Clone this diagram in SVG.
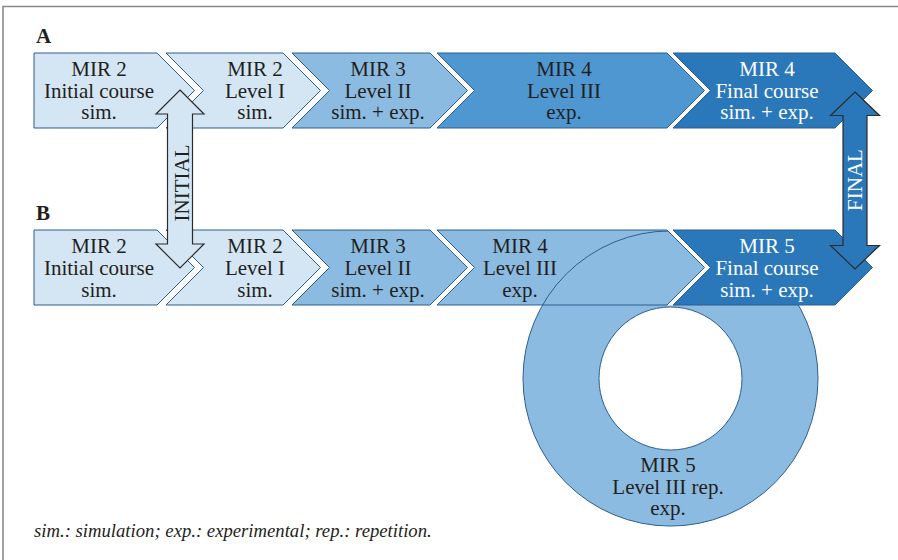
<svg xmlns="http://www.w3.org/2000/svg" width="898" height="560" viewBox="0 0 898 560">
<defs>
<style>
.t{font-family:"Liberation Serif","Times New Roman",serif;font-size:21px;fill:#231f20;text-anchor:middle}
.w{fill:#ffffff}
.lbl{font-family:"Liberation Serif","Times New Roman",serif;font-size:21px;font-weight:bold;fill:#231f20}
.c{stroke:#2a5f8f;stroke-width:1}
.l1{fill:#d4e6f4}
.l2{fill:#8cbbe1}
.l3{fill:#4f97d1}
.l4{fill:#2a78ba}
.arr{stroke:#2b2b2b;stroke-width:1.2}
.note{font-family:"Liberation Serif","Times New Roman",serif;font-size:18.7px;font-style:italic;fill:#231f20}
</style>
</defs>
<rect width="898" height="560" fill="#ffffff"/>
<path d="M3,560 V6.5 H898" fill="none" stroke="#8a8a8a" stroke-width="1.6"/>
<text class="lbl" x="36" y="43">A</text>
<text class="lbl" x="36" y="220">B</text>

<g id="a1">
<path class="c l1" d="M34,53 H157 L194.5,90.5 L157,128 H34 Z"/>
<text class="t"><tspan x="99" y="76">MIR 2</tspan><tspan x="99" y="97.5">Initial course</tspan><tspan x="99" y="119">sim.</tspan></text>
</g>
<g id="a2">
<path class="c l1" d="M166,53 H283 L320.5,90.5 L283,128 H166 L203.5,90.5 Z"/>
<text class="t"><tspan x="255" y="76">MIR 2</tspan><tspan x="255" y="97.5">Level I</tspan><tspan x="255" y="119">sim.</tspan></text>
</g>
<g id="a3">
<path class="c l2" d="M292,53 H430 L467.5,90.5 L430,128 H292 L329.5,90.5 Z"/>
<text class="t"><tspan x="378" y="76">MIR 3</tspan><tspan x="378" y="97.5">Level II</tspan><tspan x="378" y="119">sim. + exp.</tspan></text>
</g>
<g id="a4">
<path class="c l3" d="M437,53 H667 L704.5,90.5 L667,128 H437 L474.5,90.5 Z"/>
<text class="t"><tspan x="564" y="76">MIR 4</tspan><tspan x="564" y="97.5">Level III</tspan><tspan x="564" y="119">exp.</tspan></text>
</g>
<g id="a5">
<path class="c l4" d="M673,53 H835 L872.5,90.5 L835,128 H673 L710.5,90.5 Z"/>
<text class="t w"><tspan x="767" y="76">MIR 4</tspan><tspan x="767" y="97.5">Final course</tspan><tspan x="767" y="119">sim. + exp.</tspan></text>
</g>

<g id="b1">
<path class="c l1" d="M34,230 H157 L194.5,267.5 L157,305 H34 Z"/>
<text class="t"><tspan x="99" y="253">MIR 2</tspan><tspan x="99" y="275">Initial course</tspan><tspan x="99" y="297">sim.</tspan></text>
</g>
<g id="b2">
<path class="c l1" d="M166,230 H283 L320.5,267.5 L283,305 H166 L203.5,267.5 Z"/>
<text class="t"><tspan x="255" y="253">MIR 2</tspan><tspan x="255" y="275">Level I</tspan><tspan x="255" y="297">sim.</tspan></text>
</g>
<g id="b3">
<path class="c l2" d="M292,230 H430 L467.5,267.5 L430,305 H292 L329.5,267.5 Z"/>
<text class="t"><tspan x="378" y="253">MIR 3</tspan><tspan x="378" y="275">Level II</tspan><tspan x="378" y="297">sim. + exp.</tspan></text>
</g>
<g id="b4">
<path class="l2" d="M437,230 H667 L704.5,267.5 L667,305 H437 L474.5,267.5 Z"/>
<text class="t"><tspan x="520" y="253">MIR 4</tspan><tspan x="520" y="275">Level III</tspan><tspan x="520" y="297">exp.</tspan></text>
</g>
<g id="ring">
<path class="c l2" fill-rule="evenodd" d="M523,378.5 a147.5,147.5 0 1,0 295,0 a147.5,147.5 0 1,0 -295,0 Z M599,378.5 a71.5,71.5 0 1,0 143,0 a71.5,71.5 0 1,0 -143,0 Z"/>
<text class="t"><tspan x="668" y="472">MIR 5</tspan><tspan x="668" y="494">Level III rep.</tspan><tspan x="668" y="515">exp.</tspan></text>
</g>
<polygon points="667,229.5 673,229.5 710.5,267.5 673,305.5 667,305.5 704.5,267.5" fill="#ffffff"/>
<path class="c" fill="none" d="M437,230 H667 L704.5,267.5 L667,305 H437 L474.5,267.5 Z"/>
<g id="b5">
<path class="c l4" d="M673,230 H835 L872.5,267.5 L835,305 H673 L710.5,267.5 Z"/>
<text class="t w"><tspan x="767" y="253">MIR 5</tspan><tspan x="767" y="275">Final course</tspan><tspan x="767" y="297">sim. + exp.</tspan></text>
</g>

<g id="connectors">
<g id="initial">
<path class="arr l1" d="M180,90 L204,114 H192.5 V244 H204 L180,268 L156,244 H167.5 V114 H156 Z"/>
<text class="t" transform="translate(189,183) rotate(-90)" x="0" y="0" font-size="20">INITIAL</text>
</g>
<g id="final">
<path class="arr l4" d="M855,92 L879.5,115.5 H867 V245.5 H879.5 L855,269 L830.5,245.5 H843 V115.5 H830.5 Z"/>
<text class="t w" transform="translate(862,180) rotate(-90)" x="0" y="0" font-size="20">FINAL</text>
</g>
</g>

<text class="note" x="34" y="537">sim.: simulation; exp.: experimental; rep.: repetition.</text>
</svg>
